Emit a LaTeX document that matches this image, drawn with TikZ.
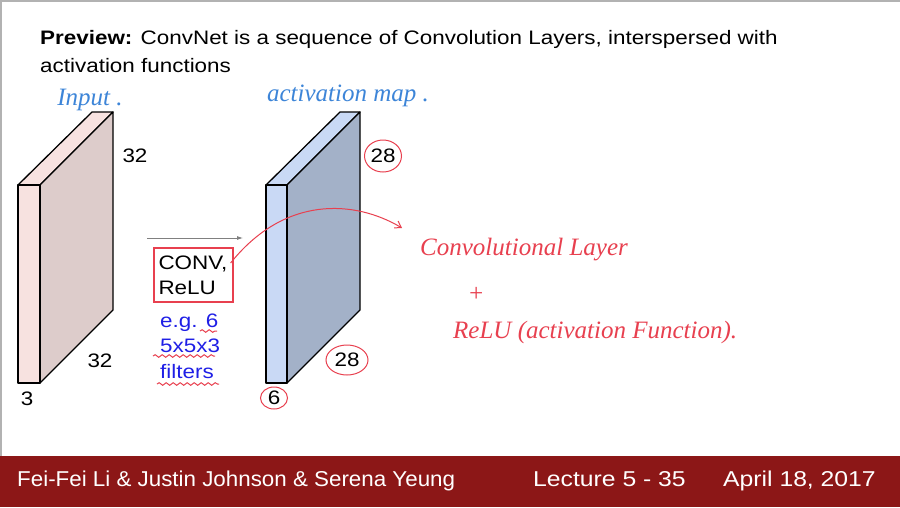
\documentclass[tikz,border=0pt]{standalone}
\usepackage{fontspec}
\setmainfont{Liberation Sans}[FakeStretch=1.15]
\newfontfamily\authfont{Liberation Sans}[FakeStretch=1.04]
\newfontfamily\handfont{Liberation Serif}
\usetikzlibrary{arrows.meta,decorations.pathmorphing,shapes.geometric}
\definecolor{cardinal}{HTML}{8C1717}
\definecolor{pinkfront}{HTML}{F7E2E0}
\definecolor{pinkside}{HTML}{DDCCCB}
\definecolor{bluefront}{HTML}{C9D9F5}
\definecolor{blueside}{HTML}{A3B1C8}
\definecolor{inkred}{HTML}{E8404F}
\definecolor{inkblue}{HTML}{3D85D8}
\definecolor{textblue}{HTML}{1F1FE6}
\tikzset{
  lbl/.style={font=\fontsize{19.5}{25}\selectfont, inner sep=0pt},
  foot/.style={font=\fontsize{21.5}{24}\selectfont, text=white, inner sep=0pt, anchor=base west},
  hand/.style={font=\handfont\itshape\fontsize{25}{28}\selectfont, inner sep=0pt},
  redink/.style={draw=inkred, line width=1pt},
  ring/.style={lbl, ellipse, draw=inkred, line width=1pt},
  wavy/.style={redink, decorate, decoration={snake, amplitude=1.3pt, segment length=7pt}},
  face/.style={draw=black, line width=1.3pt, line join=round}
}
\begin{document}
\begin{tikzpicture}[x=1pt, y=-1pt]
\useasboundingbox (0,0) rectangle (900,507);
\fill[white] (0,0) rectangle (900,507);
\draw[gray!60, line width=1.5pt] (0.75,507) -- (0.75,0.75) -- (900,0.75);
% title
\node[lbl, anchor=base west] (title1) at (40,44.5) {\textbf{Preview:} ConvNet is a sequence of Convolution Layers, interspersed with};
\node[lbl, anchor=base west] (title2) at (40,72.5) {activation functions};
% input volume
\coordinate (ia) at (18,185); \coordinate (ib) at (40,185);
\coordinate (ic) at (40,383); \coordinate (id) at (18,383);
\coordinate (ie) at (92,112); \coordinate (if) at (113,112);
\coordinate (ig) at (113,310);
\filldraw[face, fill=pinkfront] (ia) -- (ie) -- (if) -- (ib) -- cycle;
\filldraw[face, fill=pinkside] (ib) -- (if) -- (ig) -- (ic) -- cycle;
\filldraw[face, fill=pinkfront] (ia) -- (ib) -- (ic) -- (id) -- cycle;
\node[lbl] (inh) at (135,156) {32};
\node[lbl] (inw) at (100,361) {32};
\node[lbl] (ind) at (27,399) {3};
% conv step
\coordinate (arrs) at (147,238); \coordinate (arre) at (243,238);
\draw[gray, line width=0.8pt, -{Latex[length=6pt,width=4pt]}] (arrs) -- (arre);
\node[lbl, draw=inkred, line width=1.2pt, minimum width=79pt, minimum height=54pt,
      text width=70pt, align=left] (conv) at (193.5,275) {CONV,\\ReLU};
\node[lbl, text=textblue, anchor=base west] (eg) at (160,327) {e.g. 6};
\node[lbl, text=textblue, anchor=base west] (size) at (160,352) {5x5x3};
\node[lbl, text=textblue, anchor=base west] (filt) at (160,378) {filters};
\draw[wavy] (200,331) -- (217,331);
\draw[wavy] (153,356) -- (215,356);
\draw[wavy] (157,384) -- (219,384);
% activation map
\coordinate (aa) at (266,185); \coordinate (ab) at (287,185);
\coordinate (ac) at (287,383); \coordinate (ad) at (266,383);
\coordinate (ae) at (340,112); \coordinate (af) at (360,112);
\coordinate (ag) at (360,310);
\filldraw[face, fill=bluefront] (aa) -- (ae) -- (af) -- (ab) -- cycle;
\filldraw[face, fill=blueside] (ab) -- (af) -- (ag) -- (ac) -- cycle;
\filldraw[face, fill=bluefront] (aa) -- (ab) -- (ac) -- (ad) -- cycle;
\node[ring, minimum width=37pt, minimum height=32pt] (acth) at (383,156) {28};
\node[ring, minimum width=42pt, minimum height=30pt] (actw) at (347,360) {28};
\node[ring, minimum width=27pt, minimum height=22pt] (actd) at (274,398) {6};
% handwritten notes
\node[hand, text=inkblue] (inpnote) at (90,100) {Input .};
\node[hand, text=inkblue] (actnote) at (348,96) {activation map .};
\coordinate (flag) at (402,228);
\draw[redink, -{Straight Barb[length=6pt,width=8pt]}] ([shift={(-3pt,12pt)}]conv.east)
  .. controls (285,195) and (355,200) .. (flag);
\node[hand, text=inkred, anchor=west] (note1) at (420,250) {Convolutional Layer};
\node[hand, text=inkred] (note2) at (476,294) {+};
\node[hand, text=inkred, anchor=west] (note3) at (453,332) {ReLU (activation Function).};
% footer
\fill[cardinal] (0,456) rectangle (900,507);
\node[foot, font=\authfont\fontsize{21.5}{24}\selectfont] (authors) at (17,486) {Fei-Fei Li \& Justin Johnson \& Serena Yeung};
\node[foot] (lecture) at (533,486) {Lecture 5 - 35};
\node[foot] (date) at (723,486) {April 18, 2017};
\end{tikzpicture}
\end{document}
